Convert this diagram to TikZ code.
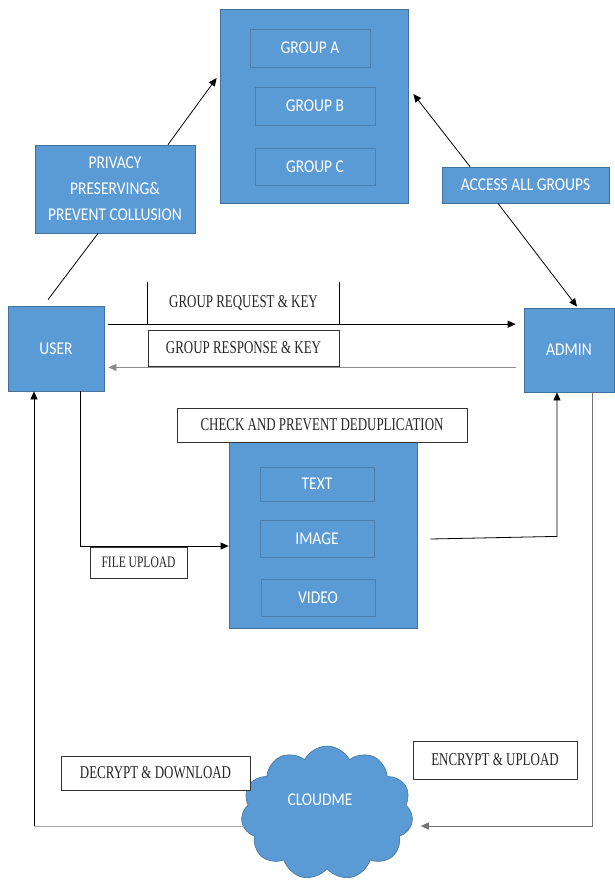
\documentclass[tikz,border=0pt]{standalone}
\usepackage{fontspec}
\usetikzlibrary{arrows.meta,calc,shapes.symbols}
\newfontfamily\sansf[FakeStretch=0.86]{Carlito}
\newfontfamily\serf[FakeStretch=0.72]{Liberation Serif}
\definecolor{myblue}{HTML}{5B9BD5}
\definecolor{bord}{HTML}{41719C}
\definecolor{inbord}{HTML}{4A7FB0}
\tikzset{
  bluebox/.style={draw=bord, fill=myblue, line width=0.8pt, inner sep=0pt, text=white, align=center,
    font=\sansf\fontsize{18}{26}\selectfont},
  innerbox/.style={bluebox, draw=inbord, line width=0.7pt},
  whitebox/.style={draw=black!80, fill=white, line width=0.8pt, inner sep=0pt, text=black!85,
    font=\serf\fontsize{18}{20}\selectfont},
  arr/.style={-{Triangle[length=8pt,width=7pt]}, line width=0.8pt},
  conn/.style={line width=0.8pt},
}
\begin{document}
\begin{tikzpicture}[x=1pt,y=-1pt]
\path[use as bounding box, fill=white] (0,0) rectangle (614,883);

% group box
\node[bluebox, minimum width=188pt, minimum height=194pt] (groups) at (314,106) {};
\node[innerbox, minimum width=120pt, minimum height=38pt] (ga) at (310,48) {GROUP A};
\node[innerbox, minimum width=120pt, minimum height=38pt] (gb) at (315,106) {GROUP B};
\node[innerbox, minimum width=120pt, minimum height=37pt] (gc) at (315,166.5) {GROUP C};

% privacy
\node[bluebox, minimum width=160pt, minimum height=88pt] (privacy) at (115,189) {PRIVACY\\PRESERVING\&\\PREVENT COLLUSION};
% access
\node[bluebox, minimum width=167pt, minimum height=36pt] (access) at (525.5,185) {ACCESS ALL GROUPS};

% user and admin
\node[bluebox, minimum width=96pt, minimum height=85pt] (user) at (56,348.5) {USER};
\node[bluebox, minimum width=90pt, minimum height=84pt] (admin) at (569,350) {ADMIN};

% request / response labels
\node[font=\serf\fontsize{18}{20}\selectfont, text=black!85, minimum width=191pt, minimum height=42pt, inner sep=0pt] (req) at (243.5,303) {GROUP REQUEST \&\ KEY};
\draw[conn] (req.north west) -- (req.south west);
\draw[conn] (req.north east) -- (req.south east);
\node[whitebox, minimum width=191pt, minimum height=36pt] (resp) at (243.5,348) {GROUP RESPONSE \&\ KEY};

\draw[arr, line width=1.2pt] ($(user.east|-req.south)+(4,0)$) -- ($(admin.west|-req.south)+(-8,0)$);
\draw[arr, draw=black!45] ($(admin.west|-resp.south)+(-8,1)$) -- ($(user.east|-resp.south)+(4,1)$);

% user -> privacy -> groups
\draw[conn] ($(user.north)+(-8,-6)$) -- ($(privacy.south)+(-17,0)$);
\draw[arr] ($(privacy.north)+(53,0)$) -- ($(groups.west)+(-3,-28)$);
% access
\draw[arr] ($(access.north)+(-55.5,0)$) -- ($(groups.east)+(5,-12)$);
\draw[arr] ($(access.south)+(-27.5,0)$) -- ($(admin.north)+(8,-1)$);

% dedup
\node[bluebox, minimum width=188pt, minimum height=187pt] (dedup) at (323,534.5) {};
\node[whitebox, minimum width=290pt, minimum height=34pt] (dedlabel) at (322,425) {CHECK AND PREVENT DEDUPLICATION};
\node[innerbox, minimum width=114pt, minimum height=34pt] (text) at (317,484) {TEXT};
\node[innerbox, minimum width=114pt, minimum height=37pt] (image) at (317,538.5) {IMAGE};
\node[innerbox, minimum width=114pt, minimum height=37pt] (video) at (318,597.5) {VIDEO};

% file upload
\coordinate (fu) at (0,546);
\draw[arr] ($(user.south)+(24,0)$) |- (dedup.west|-fu);
\node[whitebox, minimum width=97pt, minimum height=31pt, font=\serf\fontsize{16}{18}\selectfont] (fulabel) at (138.5,562.5) {FILE UPLOAD};

% dedup -> admin
\draw[arr] ($(dedup.east)+(13,4.5)$) -- ($(admin.south)+(-12,144)$) -- ($(admin.south)+(-12,0)$);

% cloud
\node[cloud, cloud puffs=11, cloud puff arc=125, aspect=1.25, fill=myblue, draw=bord, line width=0.6pt,
  minimum width=172pt, minimum height=134pt, inner sep=0pt] (cloud) at (327,813) {};
\node[text=white, font=\sansf\fontsize{18}{20}\selectfont] (cloudlbl) at (320,800) {CLOUDME};

\coordinate (botline) at (0,826);
\coordinate (lcorner) at ($(user.south|-botline)+(-22,0)$);
\draw[conn, draw=black!35] ($(cloud.west|-botline)+(2,0)$) -- (lcorner);
\draw[arr] (lcorner) -- ($(user.south)+(-22,0)$);
\draw[arr, draw=black!55] ($(admin.south)+(23,0)$) |- ($(cloud.east|-botline)+(9,0)$);

\node[whitebox, minimum width=189pt, minimum height=34pt] (decrypt) at (155.5,773) {DECRYPT \&\ DOWNLOAD};
\node[whitebox, minimum width=164pt, minimum height=38pt] (encrypt) at (495,760) {ENCRYPT \&\ UPLOAD};
\end{tikzpicture}
\end{document}
